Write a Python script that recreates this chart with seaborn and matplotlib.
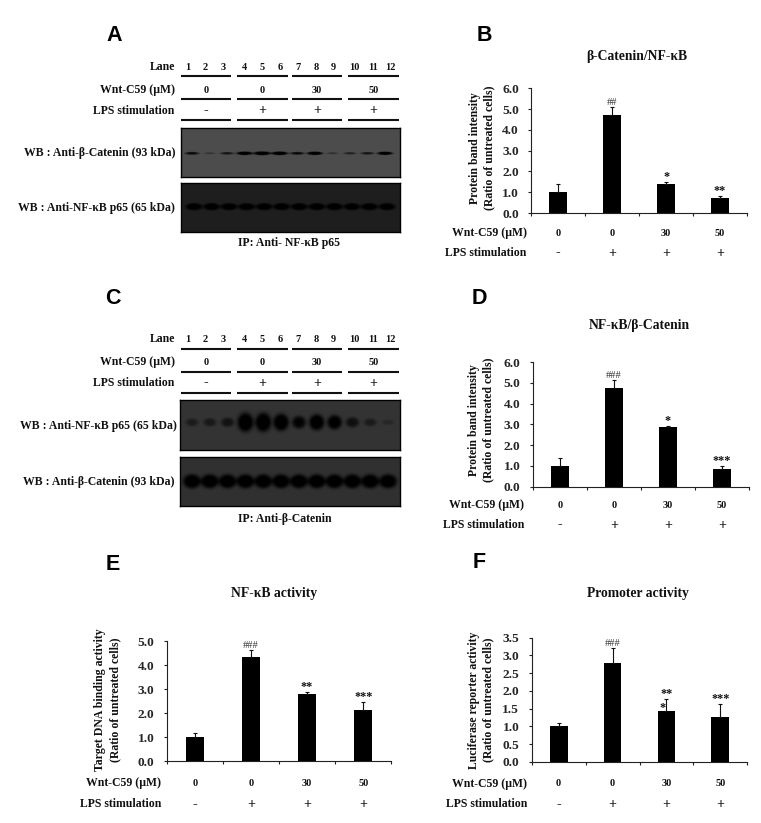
import numpy as np
import pandas as pd
import matplotlib.pyplot as plt
import seaborn as sns

sns.set_theme(style='ticks')
plt.rcParams['font.family'] = ['Liberation Serif', 'DejaVu Serif']
plt.rcParams['font.weight'] = 'bold'

W, H = 761, 823

# bar charts
groups = ['ctrl', 'lps', 'lps30', 'lps50']
wnt_doses = ['0', '0', '30', '50']
lps_signs = ['-', '+', '+', '+']

b_vals = [1.0, 4.7, 1.4, 0.7]
b_errs = [0.38, 0.4, 0.07, 0.12]
b_sig = ['', '##', '*', '**']

d_vals = [1.0, 4.75, 2.85, 0.85]
d_errs = [0.38, 0.36, 0.07, 0.13]
d_sig = ['', '###', '*', '***']

e_vals = [1.0, 4.35, 2.8, 2.15]
e_errs = [0.18, 0.27, 0.08, 0.32]
e_sig = ['', '###', '**', '***']

f_vals = [1.0, 2.8, 1.45, 1.28]
f_errs = [0.1, 0.4, 0.33, 0.35]
f_sig = ['', '###', '**', '***']

# relative band strength per lane on the blots
a_catenin = [0.55, 0.2, 0.45, 0.85, 1.0, 0.9, 0.55, 0.8, 0.22, 0.35, 0.45, 0.75]
a_p65 = [0.95, 1.0, 0.95, 1.0, 1.0, 1.0, 1.0, 1.0, 1.0, 1.0, 1.0, 1.0]
c_p65 = [0.3, 0.33, 0.4, 1.0, 1.0, 0.88, 0.6, 0.8, 0.7, 0.45, 0.3, 0.15]
c_catenin = [1.0, 0.95, 0.95, 0.95, 0.95, 0.95, 0.9, 0.9, 1.0, 0.95, 0.9, 0.95]

lane_labels = [str(i) for i in range(1, 13)]

fig = plt.figure(figsize=(W / 100, H / 100), dpi=100)
fig.patch.set_facecolor('white')

# overlay in pixel coordinates for the labels around the panels
over = fig.add_axes([0, 0, 1, 1], zorder=5)
over.set_xlim(0, W)
over.set_ylim(H, 0)
over.axis('off')
over.patch.set_alpha(0)


def px_axes(x0, x1, top, bottom):
    return fig.add_axes([x0 / W, 1 - bottom / H, (x1 - x0) / W, (bottom - top) / H])


def label(x, y, s, size=8.5, ha='center', **kw):
    over.text(x, y, s, fontsize=size, ha=ha, va='center', fontweight='bold', color='#111111', **kw)


def letter(x, y, s):
    over.text(x, y, s, fontsize=15.5, ha='center', va='center', fontweight='bold',
              family='Liberation Sans', color='black')


def blot(x0, x1, top, bottom, lanes, bg, first, last, band_y, sx, sy):
    # lanes are drawn as soft rounded bands on a dark membrane
    ax = px_axes(x0, x1, top, bottom)
    nx, ny = int(x1 - x0), int(bottom - top)
    xx, yy = np.meshgrid(np.arange(nx) + 0.5 + x0, np.arange(ny) + 0.5 + top)
    dark = np.zeros((ny, nx))
    centres = np.linspace(first, last, len(lanes))
    for c, v in zip(centres, lanes):
        wx = sx[0] + sx[1] * v
        wy = sy[0] + sy[1] * v
        r2 = ((xx - c) / wx) ** 2 + ((yy - band_y) / wy) ** 2
        dark += min(1.2, v * 1.6) * np.exp(-r2 ** 2)
    sns.heatmap(bg * (1 - np.clip(dark, 0, 1)), ax=ax, cmap='gray', vmin=0, vmax=1, cbar=False,
                xticklabels=False, yticklabels=False)
    for s in ax.spines.values():
        s.set_visible(True)
        s.set_color('black')
        s.set_linewidth(1.0)
    return ax


def header(row_y, line_y):
    # Lane / Wnt-C59 / LPS rows over a blot
    label(175, row_y[0], 'Lane', ha='right')
    label(175, row_y[1], 'Wnt-C59 (µM)', ha='right')
    label(174, row_y[2], 'LPS stimulation', ha='right')
    for x, s in zip([187.7, 205.3, 223, 244.7, 262.3, 280, 298.3, 316, 333.7, 354.7, 372.7, 390.3], lane_labels):
        label(x, row_y[0], s, size=7.5)
    for (a, b), d, g in zip([(181, 231), (237, 287.7), (291.7, 342.3), (348.3, 399)], wnt_doses, lps_signs):
        label((a + b) / 2, row_y[1], d, size=7.5)
        label((a + b) / 2, row_y[2], g, size=10)
        for y in line_y:
            over.plot([a, b], [y, y], color='#111111', lw=1.5, solid_capstyle='butt')


def bars(x0, x1, top, bottom, ymax, ticks, vals, errs, sig, ylab, ylab_xy, title, title_xy,
         rows_y, row_right):
    ax = px_axes(x0, x1, top, bottom)
    df = pd.DataFrame({'group': groups, 'value': vals})
    sns.barplot(data=df, x='group', y='value', color='black', saturation=1, width=0.33,
                errorbar=None, linewidth=0, ax=ax)
    ax.errorbar(range(4), vals, yerr=[[0] * 4, errs], fmt='none', ecolor='#111111',
                elinewidth=0.8, capsize=1.5, capthick=0.8)
    ax.set_xlim(-0.5, 3.5)
    ax.set_ylim(0, ymax)
    ax.set_yticks(ticks)
    ax.set_yticklabels([f'{t:.1f}' for t in ticks], fontsize=9.6, fontweight='bold')
    ax.set_xticks([-0.5, 0.5, 1.5, 2.5, 3.5])
    ax.set_xticklabels([])
    ax.set_xlabel('')
    ax.set_ylabel('')
    ax.tick_params(length=2.5, width=0.8, color='#222222', pad=6.5)
    ax.patch.set_alpha(0)
    sns.despine(ax=ax)
    for side in ['left', 'bottom']:
        ax.spines[side].set_linewidth(0.8)
        ax.spines[side].set_color('#222222')
    for i, s in enumerate(sig):
        if s.startswith('#'):
            ax.annotate(s, (i, vals[i] + errs[i]), xytext=(0, 1.5), textcoords='offset points',
                        ha='center', va='baseline', fontsize=7.5, fontweight='normal', color='#333333')
        elif s:
            ax.annotate(s, (i, vals[i] + errs[i]), xytext=(0, 1.5), textcoords='offset points',
                        ha='center', va='baseline', fontsize=8.8, fontweight='bold', color='#111111')
    over.text(ylab_xy[0], ylab_xy[1], ylab, rotation=90, fontsize=8.5, fontweight='bold',
              ha='center', va='center', linespacing=1.3, color='#111111')
    label(title_xy[0], title_xy[1], title, size=9.8)
    label(row_right, rows_y[0], 'Wnt-C59 (µM)', ha='right')
    label(row_right, rows_y[1], 'LPS stimulation', ha='right')
    slot = (x1 - x0) / 4
    for i in range(4):
        cx = x0 + slot * (i + 0.5)
        label(cx, rows_y[0], wnt_doses[i], size=7.5)
        label(cx, rows_y[1], lps_signs[i], size=10)
    return ax


# panel A
letter(114, 35, 'A')
header([67, 90.3, 110.7], [76, 99.3, 120])
blot(181, 400, 128, 177, a_catenin, 0.30, 192, 385, 153.3, (5, 3.5), (0.9, 1.0))
blot(181, 400, 183, 232, a_p65, 0.12, 194, 387, 206.7, (8, 0.2), (3.2, 0.3))
label(175, 152.7, 'WB : Anti-β-Catenin (93 kDa)', ha='right')
label(175, 208.3, 'WB : Anti-NF-κB p65 (65 kDa)', ha='right')
label(289.3, 242.7, 'IP: Anti- NF-κB p65')

# panel C
letter(113, 299, 'C')
header([339.3, 362.3, 383], [349, 372.3, 392.7])
blot(180, 400, 400, 450, c_p65, 0.20, 192, 388, 422.3, (5.5, 2.5), (1.5, 8))
blot(180, 400, 457, 506, c_catenin, 0.19, 192, 388, 481.3, (8.8, 0), (6.5, 0.5))
label(176.7, 425.7, 'WB : Anti-NF-κB p65 (65 kDa)', ha='right')
label(174.3, 482.3, 'WB : Anti-β-Catenin (93 kDa)', ha='right')
label(285.3, 519, 'IP: Anti-β-Catenin')

intensity = 'Protein band intensity\n(Ratio of untreated cells)'
ticks6 = [0, 1, 2, 3, 4, 5, 6]

# panel B
letter(484, 35, 'B')
bars(531.3, 747, 88.3, 213, 6, ticks6, b_vals, b_errs, b_sig, intensity, (482, 148),
     'β-Catenin/NF-κB', (636.7, 56.7), (233, 253), 526.7)

# panel D
letter(479, 299, 'D')
bars(532.7, 749, 362, 486.7, 6, ticks6, d_vals, d_errs, d_sig, intensity, (481, 420),
     'NF-κB/β-Catenin', (639, 325), (505, 525), 524)

# panel E
letter(113, 564, 'E')
bars(166.7, 391.3, 641.3, 761.3, 5, [0, 1, 2, 3, 4, 5], e_vals, e_errs, e_sig,
     'Target DNA binding activity\n(Ratio of untreated cells)', (107.5, 700),
     'NF-κB activity', (274.3, 593.3), (783.3, 804.3), 161)

# panel F
letter(479, 563, 'F')
ax_f = bars(531.7, 747.3, 637.7, 762, 3.5, [0, 0.5, 1, 1.5, 2, 2.5, 3, 3.5], f_vals, f_errs, f_sig,
            'Luciferase reporter activity\n(Ratio of untreated cells)', (481, 700),
            'Promoter activity', (638, 593), (783.7, 804.3), 527)
ax_f.annotate('*', (2, f_vals[2] + f_errs[2]), xytext=(-3, -9), textcoords='offset points',
              ha='center', va='baseline', fontsize=8.8, color='#111111')

plt.savefig('out.png', dpi=100)
